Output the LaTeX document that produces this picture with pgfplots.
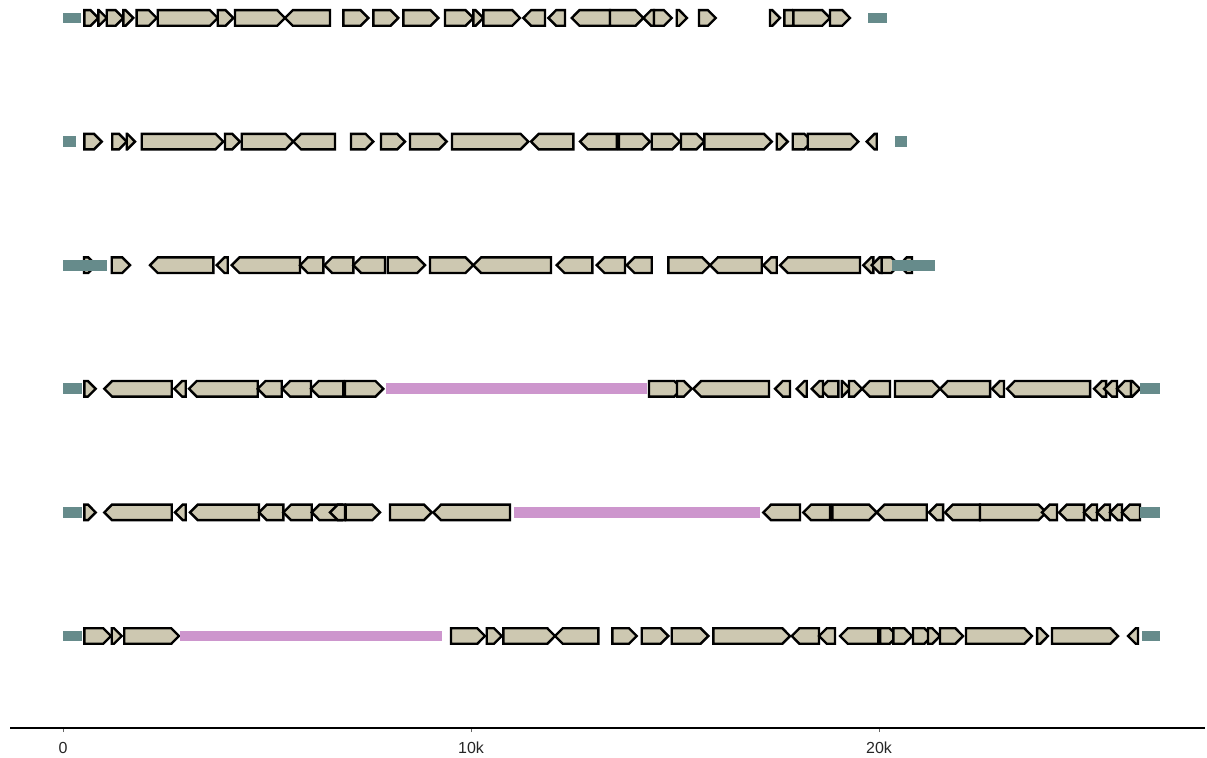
\documentclass[border=0pt]{standalone}
\usepackage{pgfplots}
\usepackage{pgfplotstable}
\pgfplotsset{compat=1.18}
\usepackage{fontspec}
\setmainfont{Liberation Sans}
\definecolor{genefill}{RGB}{205,200,177}
\definecolor{tealblk}{RGB}{102,139,139}
\definecolor{pinkbar}{RGB}{205,150,205}

% genes: row, start, end (end = arrow tip), kb
\pgfplotstableread{
row s e
6 0.522 0.865
6 0.865 1.071
6 1.071 1.478
6 1.478 1.723
6 1.806 2.297
6 2.321 3.792
6 3.792 4.174
6 4.216 5.441
6 6.544 5.441
6 6.870 7.483
6 7.605 8.218
6 8.341 9.199
6 9.363 10.056
6 10.056 10.301
6 10.301 11.201
6 11.814 11.282
6 12.304 11.895
6 13.407 12.468
6 13.407 14.223
6 14.485 14.223
6 14.485 14.919
6 15.041 15.294
6 15.588 15.998
6 17.328 17.574
6 17.679 18.064
6 17.900 18.799
6 18.799 19.289
5 0.522 0.949
5 1.208 1.561
5 1.561 1.765
5 1.929 3.929
5 3.971 4.338
5 4.380 5.645
5 6.667 5.645
5 7.059 7.605
5 7.794 8.382
5 8.505 9.404
5 9.534 11.404
5 12.507 11.471
5 13.571 12.672
5 13.627 14.387
5 14.429 15.123
5 15.147 15.718
5 15.718 17.370
5 17.493 17.762
5 17.885 18.358
5 18.252 19.493
5 19.944 19.699
4 0.515 0.809
4 1.194 1.642
4 3.684 2.132
4 4.037 3.767
4 5.809 4.135
4 6.380 5.809
4 7.115 6.404
4 7.892 7.115
4 7.958 8.873
4 8.995 10.056
4 11.961 10.056
4 12.973 12.100
4 13.775 13.081
4 14.429 13.816
4 14.836 15.858
4 17.125 15.858
4 17.493 17.164
4 19.534 17.574
4 19.860 19.615
4 20.066 19.821
4 20.066 20.490
4 20.809 20.490
3 0.522 0.801
3 2.664 1.012
3 3.007 2.728
3 4.772 3.088
3 5.360 4.772
3 6.078 5.375
3 6.870 6.078
3 6.912 7.850
3 14.363 15.172
3 15.049 15.409
3 17.304 15.449
3 17.819 17.451
3 18.228 17.983
3 19.002 18.554
3 18.627 18.350
3 19.086 19.289
3 19.265 19.583
3 20.270 19.583
3 20.392 21.495
3 22.721 21.495
3 23.064 22.770
3 25.172 23.137
3 25.564 25.270
3 25.833 25.515
3 26.176 25.833
3 26.176 26.397
2 0.522 0.801
2 2.664 1.012
2 3.007 2.745
2 4.804 3.113
2 5.400 4.804
2 6.096 5.400
2 6.838 6.096
2 6.912 6.544
2 6.929 7.770
2 8.015 9.037
2 10.956 9.076
2 18.064 17.164
2 18.799 18.145
2 18.855 19.944
2 21.169 19.944
2 21.569 21.225
2 22.475 21.618
2 22.475 24.100
2 24.363 23.995
2 25.025 24.412
2 25.343 25.025
2 25.662 25.343
2 25.956 25.662
2 26.397 25.956
1 0.522 1.176
1 1.194 1.439
1 1.502 2.843
1 9.510 10.343
1 10.385 10.752
1 10.792 12.059
1 13.120 12.059
1 13.463 14.061
1 14.184 14.836
1 14.919 15.816
1 15.939 17.819
1 18.529 17.860
1 18.922 18.529
1 19.983 19.044
1 20.025 20.450
1 20.350 20.809
1 20.833 21.300
1 21.201 21.495
1 21.495 22.059
1 22.132 23.750
1 23.873 24.142
1 24.240 25.858
1 26.348 26.103
}\genes

\pgfplotstableread{
row s e
6 0.00 0.44
6 19.73 20.20
5 0.01 0.31
5 20.39 20.68
4 0.00 1.07
4 20.31 21.36
3 0.00 0.47
3 26.40 26.89
2 0.00 0.46
2 26.40 26.89
1 0.00 0.46
1 26.45 26.89
}\tealblocks

\pgfplotstableread{
row s e
3 7.909 14.306
2 11.061 17.083
1 2.868 9.297
}\pinkbars

\begin{document}
\begin{tikzpicture}
\begin{axis}[
  scale only axis,
  width=597.5pt, height=364pt,
  xmin=-1.299, xmax=27.990,
  ymin=0.2557, ymax=6.1456,
  axis x line=bottom, axis y line=none,
  x axis line style={-, line width=0.9pt, black},
  xtick={0,10,20}, xticklabels={0,10k,20k},
  tick align=outside, major tick length=2pt,
  x tick style={line width=0.5pt, black!60},
  ytick=\empty,
  xticklabel style={font=\fontsize{8}{9.6}\selectfont, text=black!85, yshift=-1.5pt},
  clip=false,
]
\pgfplotstablegetrowsof{\genes}
\pgfmathtruncatemacro{\NG}{\pgfplotsretval-1}
\pgfplotsforeachungrouped \i in {0,...,\NG}{%
  \pgfplotstablegetelem{\i}{row}\of\genes \let\Gy\pgfplotsretval
  \pgfplotstablegetelem{\i}{s}\of\genes \let\Gs\pgfplotsretval
  \pgfplotstablegetelem{\i}{e}\of\genes \let\Ge\pgfplotsretval
  \pgfmathsetmacro\Glen{abs(\Ge-\Gs)}%
  \pgfmathsetmacro\Ghd{min(0.19,\Glen)}%
  \pgfmathsetmacro\Gdir{(\Ge>\Gs)?1:-1}%
  \pgfmathsetmacro\Gn{\Ge-\Gdir*\Ghd}%
  \pgfmathsetmacro\Gt{\Gy+0.063}%
  \pgfmathsetmacro\Gb{\Gy-0.063}%
  \edef\Gcmd{\noexpand\addplot[draw=black, line width=1.2pt, fill=genefill, line join=miter, mark=none] coordinates {(\Gs,\Gt) (\Gn,\Gt) (\Ge,\Gy) (\Gn,\Gb) (\Gs,\Gb)} -- cycle;}%
  \Gcmd
}
\pgfplotstablegetrowsof{\tealblocks}
\pgfmathtruncatemacro{\NT}{\pgfplotsretval-1}
\pgfplotsforeachungrouped \i in {0,...,\NT}{%
  \pgfplotstablegetelem{\i}{row}\of\tealblocks \let\Gy\pgfplotsretval
  \pgfplotstablegetelem{\i}{s}\of\tealblocks \let\Gs\pgfplotsretval
  \pgfplotstablegetelem{\i}{e}\of\tealblocks \let\Ge\pgfplotsretval
  \pgfmathsetmacro\Gt{\Gy+0.043}%
  \pgfmathsetmacro\Gb{\Gy-0.043}%
  \edef\Gcmd{\noexpand\addplot[draw=none, fill=tealblk, mark=none] coordinates {(\Gs,\Gt) (\Ge,\Gt) (\Ge,\Gb) (\Gs,\Gb)} -- cycle;}%
  \Gcmd
}
\pgfplotstablegetrowsof{\pinkbars}
\pgfmathtruncatemacro{\NP}{\pgfplotsretval-1}
\pgfplotsforeachungrouped \i in {0,...,\NP}{%
  \pgfplotstablegetelem{\i}{row}\of\pinkbars \let\Gy\pgfplotsretval
  \pgfplotstablegetelem{\i}{s}\of\pinkbars \let\Gs\pgfplotsretval
  \pgfplotstablegetelem{\i}{e}\of\pinkbars \let\Ge\pgfplotsretval
  \pgfmathsetmacro\Gt{\Gy+0.044}%
  \pgfmathsetmacro\Gb{\Gy-0.044}%
  \edef\Gcmd{\noexpand\addplot[draw=none, fill=pinkbar, mark=none] coordinates {(\Gs,\Gt) (\Ge,\Gt) (\Ge,\Gb) (\Gs,\Gb)} -- cycle;}%
  \Gcmd
}
\coordinate (bbll) at (rel axis cs:-0.00837,-0.03984);
\coordinate (bbur) at (rel axis cs:1.00167,1);
\end{axis}
\pgfresetboundingbox
\path[use as bounding box] (bbll) rectangle (bbur);
\end{tikzpicture}
\end{document}
